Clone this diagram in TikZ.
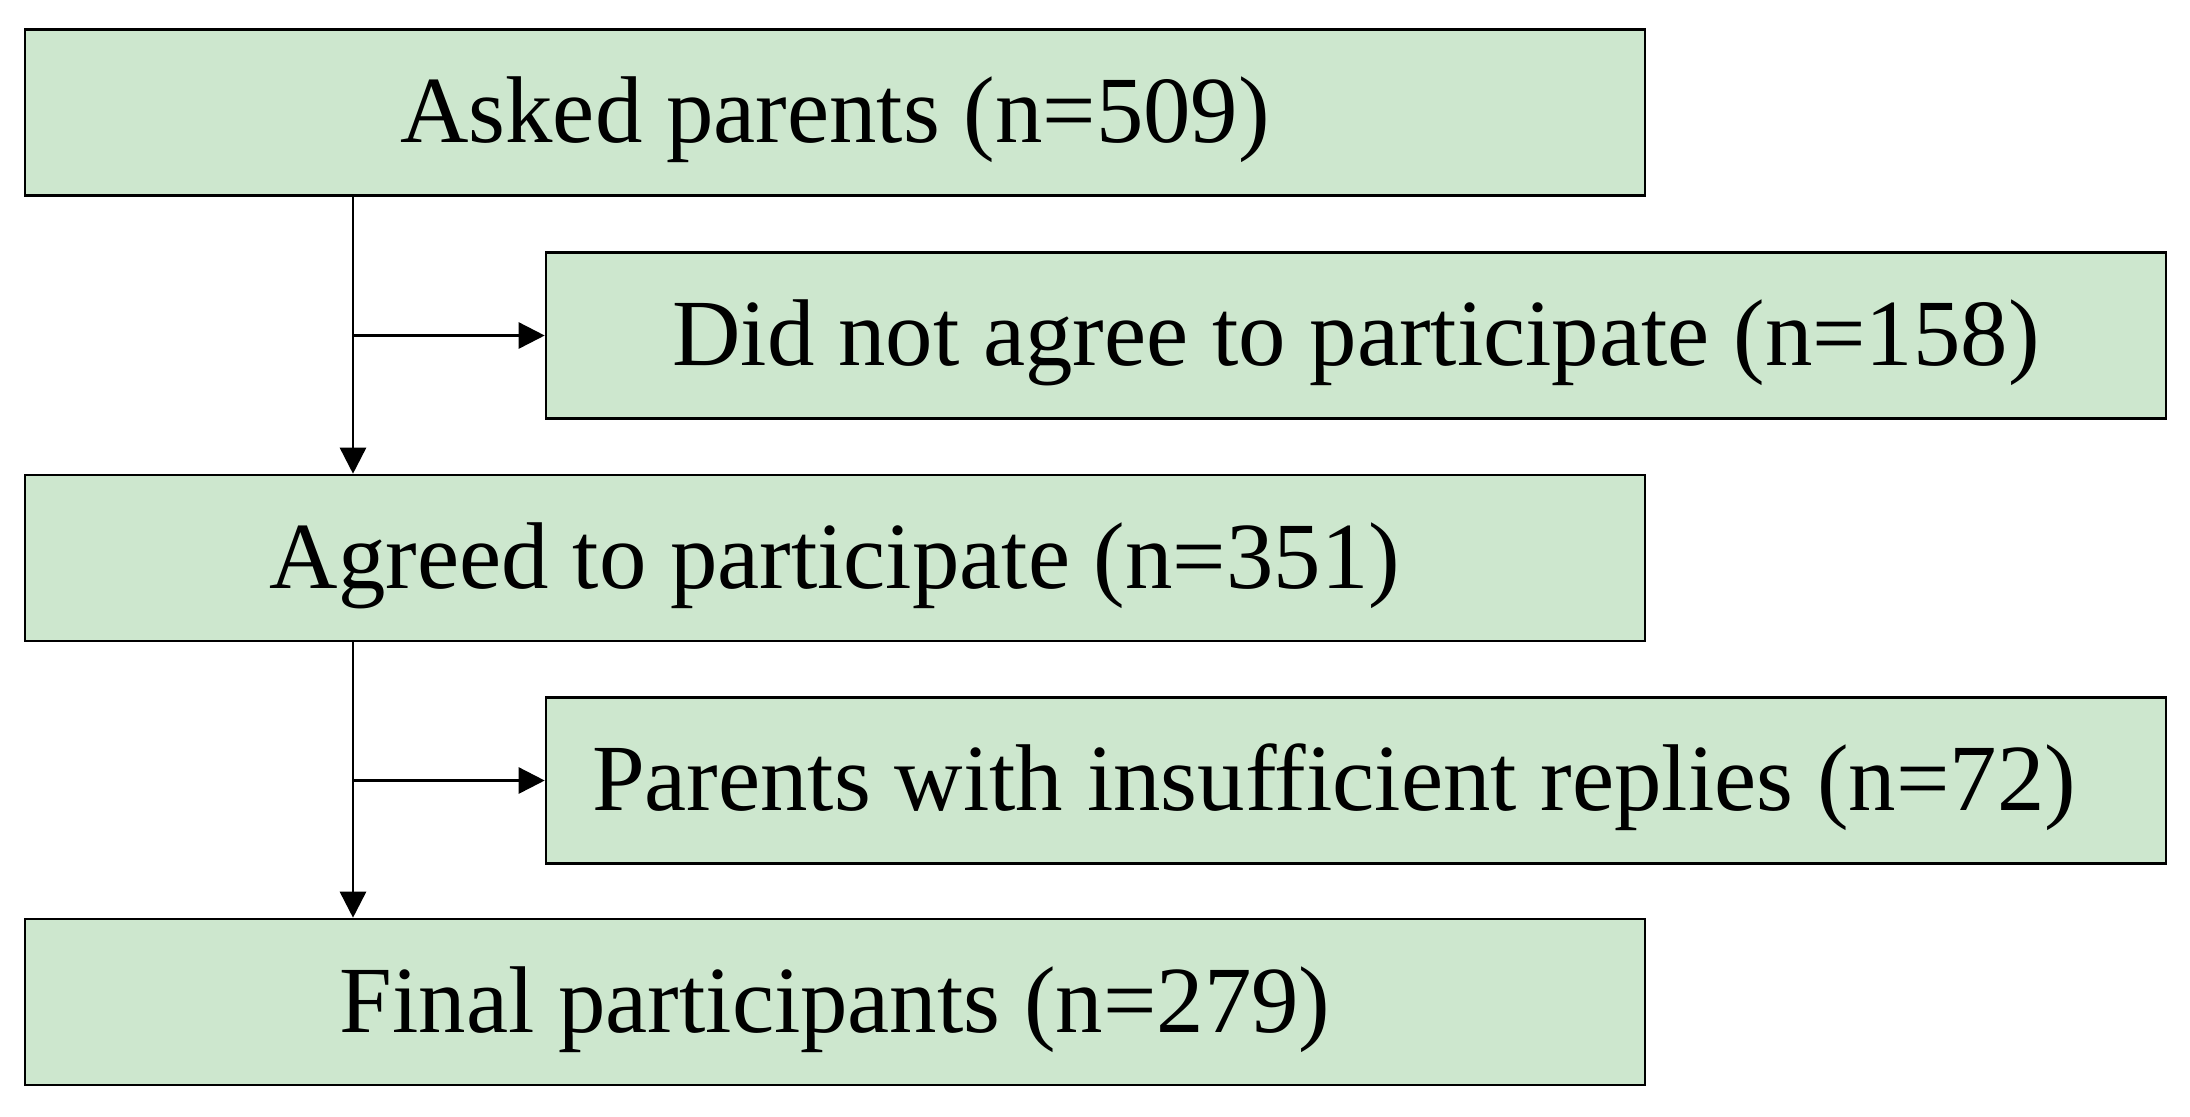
\documentclass[tikz,border=0pt]{standalone}
\usepackage{fontspec}
\setmainfont{Liberation Serif}
\usetikzlibrary{arrows.meta}
\definecolor{boxgreen}{RGB}{205,231,206}
\begin{document}
\begin{tikzpicture}[x=1pt,y=-1pt,
  box/.style={draw, line width=1.3pt, fill=boxgreen, minimum width=810pt, minimum height=83pt, inner sep=0pt, text height=40pt, text depth=10pt, font=\fontsize{47.4}{57}\selectfont},
  conn/.style={line width=1.3pt, -{Triangle[length=13pt,width=13pt]}}]
\useasboundingbox (0,0) rectangle (1095,558);
\node[box] (a) at (417.5,56.25) {Asked parents (n=509)};
\node[box] (b) at (678,167.75) {Did not agree to participate (n=158)};
\node[box] (c) at (417.5,279) {Agreed to participate (n=351)};
\node[box] (d) at (678,390.25) {Parents with insufficient replies (n=72)\kern22pt};
\node[box] (e) at (417.5,501) {Final participants (n=279)};
\coordinate (vx) at (176.5,0);
\draw[conn] (a.south -| vx) -- (c.north -| vx);
\draw[conn] (b.west -| vx) -- (b.west);
\draw[conn] (c.south -| vx) -- (e.north -| vx);
\draw[conn] (d.west -| vx) -- (d.west);
\end{tikzpicture}
\end{document}
